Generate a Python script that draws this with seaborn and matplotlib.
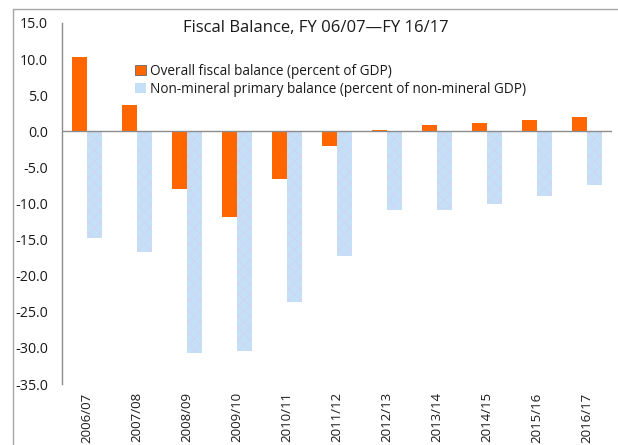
import matplotlib
matplotlib.use("Agg")
import matplotlib.pyplot as plt
from matplotlib.lines import Line2D
from matplotlib.patches import Patch
from matplotlib.ticker import FuncFormatter, MultipleLocator
import seaborn as sns
import pandas as pd

years = ["2006/07", "2007/08", "2008/09", "2009/10", "2010/11", "2011/12",
         "2012/13", "2013/14", "2014/15", "2015/16", "2016/17"]
overall = [10.3, 3.7, -8.0, -11.9, -6.6, -2.1, 0.2, 0.9, 1.1, 1.5, 2.0]
non_mineral = [-14.8, -16.7, -30.7, -30.4, -23.6, -17.3, -10.9, -10.9, -10.1, -8.9, -7.5]

lab_overall = "Overall fiscal balance (percent of GDP)"
lab_nonmin = "Non-mineral primary balance (percent of non-mineral GDP)"

df = pd.DataFrame({
    "year": years * 2,
    "value": overall + non_mineral,
    "series": [lab_overall] * len(years) + [lab_nonmin] * len(years),
})

sns.set_style("white")
plt.rcParams["font.family"] = ["Open Sans", "DejaVu Sans"]
plt.rcParams["hatch.linewidth"] = 0.5

orange = "#ff6600"
blue = "#c3e0f7"
blue_texture = "#d6d0f2"

fig = plt.figure(figsize=(6.18, 4.45), dpi=100)
W, H = 618, 445
ax = fig.add_axes([62 / W, 1 - 384 / H, 550 / W, 361 / H])

sns.barplot(data=df, x="year", y="value", hue="series",
            palette=[orange, blue], width=0.6, saturation=1,
            linewidth=0, ax=ax, legend=False)

# mottled texture on the non-mineral bars
for bar in ax.containers[1]:
    bar.set_hatch("xxx")
    bar.set_edgecolor(blue_texture)
    bar.set_linewidth(0)

ax.set_ylim(-35, 15)
ax.yaxis.set_major_locator(MultipleLocator(5))
ax.yaxis.set_major_formatter(FuncFormatter(lambda v, _: f"{v:.1f}"))
ax.set_xlabel("")
ax.set_ylabel("")

for side in ("top", "right", "bottom"):
    ax.spines[side].set_visible(False)
ax.spines["left"].set_color("#8c8c8c")
ax.spines["left"].set_linewidth(1.0)
ax.axhline(0, color="#8c8c8c", linewidth=1.0, zorder=3)

ax.tick_params(axis="y", length=0, pad=10, labelsize=10.3, labelcolor="#1a1a1a")
ax.tick_params(axis="x", length=0, pad=6, labelsize=9.5, labelcolor="#1a1a1a",
               labelrotation=90)
for t in ax.get_xticklabels():
    t.set_va("top")

fig.text(316 / W, 1 - 28 / H, "Fiscal Balance, FY 06/07\u2014FY 16/17",
         fontsize=12, color="#1a1a1a", ha="center", va="center")

handles = [Patch(facecolor=orange, edgecolor="#666666", linewidth=0.6),
           Patch(facecolor=blue, edgecolor="none")]
fig.legend(handles, [lab_overall, lab_nonmin], loc="upper left",
           bbox_to_anchor=(128 / W, 1 - 57 / H), frameon=False, fontsize=9.8,
           handlelength=0.8, handleheight=0.8, handletextpad=0.3,
           labelspacing=0.2, borderpad=0, labelcolor="#1a1a1a")

# outer chart frame
frame_kw = dict(color="#a6a6a6", linewidth=1.0, transform=fig.transFigure)
fig.add_artist(Line2D([13 / W, 1], [1 - 9 / H, 1 - 9 / H], **frame_kw))
fig.add_artist(Line2D([13 / W, 13 / W], [0, 1 - 9 / H], **frame_kw))

fig.savefig("out.png", dpi=100)
